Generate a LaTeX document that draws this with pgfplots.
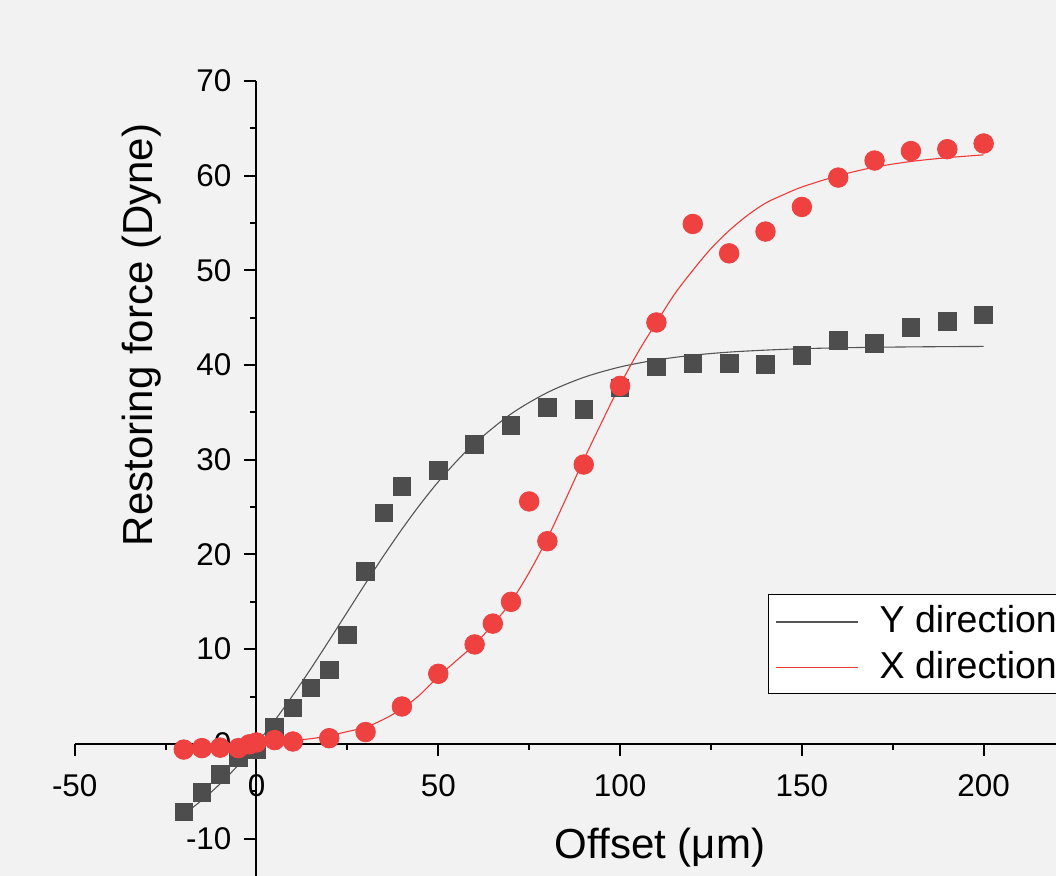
\documentclass[border=0pt]{standalone}
\usepackage{pgfplots}
\pgfplotsset{compat=1.18}
\usepackage{fontspec}
\setmainfont{Liberation Sans}
\definecolor{bg}{HTML}{F2F2F2}
\definecolor{sq}{HTML}{4D4D4D}
\definecolor{rd}{HTML}{F04141}
\definecolor{fitk}{HTML}{555555}
\definecolor{fitr}{HTML}{F03A3A}

\pgfplotstableread{
x y
-20 -7.2
-15 -5.1
-10 -3.2
-5 -1.45
0 -0.6
5 1.75
10 3.8
15 5.9
20 7.8
25 11.5
30 18.2
35 24.4
40 27.2
50 28.9
60 31.6
70 33.6
80 35.5
90 35.3
100 37.6
110 39.8
120 40.2
130 40.2
140 40.1
150 41.0
160 42.6
170 42.3
180 44.0
190 44.6
200 45.3
}\ydata

\pgfplotstableread{
x y
-20 -0.6
-15 -0.45
-10 -0.4
-5 -0.45
-2 -0.05
0 0.15
5 0.4
10 0.25
20 0.6
30 1.25
40 3.95
50 7.4
60 10.5
65 12.7
70 15.0
75 25.6
80 21.4
90 29.5
100 37.8
110 44.5
120 54.9
130 51.8
140 54.1
150 56.7
160 59.8
170 61.6
180 62.6
190 62.8
200 63.4
}\xdata

\pgfplotstableread{
x y
-20 -7.44
-15 -5.94
-10 -4.21
-5 -2.23
0 0.0
5 2.46
10 5.13
15 7.97
20 10.93
25 13.94
30 16.95
35 19.88
40 22.67
45 25.28
50 27.68
55 29.83
60 31.74
70 34.84
80 37.10
90 38.70
100 39.80
110 40.54
120 41.04
130 41.37
140 41.58
150 41.73
160 41.82
170 41.88
180 41.92
190 41.95
200 41.97
}\yfit

\pgfplotstableread{
x y
-20 -0.15
-10 -0.05
0 0.1
5 0.2
10 0.35
15 0.55
20 0.85
25 1.3
30 1.75
35 2.6
40 3.7
45 5.2
50 7.1
55 8.8
60 10.5
65 12.6
70 15.0
75 18.1
80 21.7
85 25.8
90 30.0
95 34.0
100 37.9
105 41.4
110 44.5
115 47.5
120 50.0
125 52.3
130 54.2
135 55.8
140 57.1
145 58.0
150 58.8
160 60.0
170 60.9
180 61.5
190 61.9
200 62.2
}\xfit

\begin{document}
\begin{tikzpicture}
\useasboundingbox (0,0) rectangle (528pt,438pt);
\clip (0,0) rectangle (528pt,438pt);
\fill[bg] (0,0) rectangle (528pt,438pt);
\begin{axis}[
  at={(37.35pt,0pt)}, anchor=south west,
  scale only axis, width=490.65pt, height=397.5pt,
  xmin=-50, xmax=219.9, ymin=-13.95, ymax=70,
  axis lines=center,
  axis line style={-, line width=1pt, black},
  every tick/.style={black, line width=1pt},
  tick align=outside,
  major tick length=6pt, minor tick length=3pt,
  xtick={-50,0,50,100,150,200},
  ytick={-10,0,10,20,30,40,50,60,70},
  hide obscured x ticks=false, hide obscured y ticks=false,
  minor x tick num=1, minor y tick num=1,
  /pgf/number format/assume math mode=true,
  tick label style={font=\fontsize{15.7}{18}\selectfont},
  xticklabel style={yshift=-6pt},
  yticklabel style={xshift=-3pt},
  xlabel={Offset (μm)},
  ylabel={Restoring force (Dyne)},
  label style={font=\fontsize{21}{24}\selectfont},
  xlabel style={at={(axis description cs:0.5965,0.0352)}, anchor=center},
  ylabel style={at={(axis description cs:0.0686,0.6805)}, anchor=center, rotate=90},
  legend cell align=left,
  legend image code/.code={\draw[#1] (0pt,-0.5pt) -- (41pt,-0.5pt);},
  legend style={at={(axis description cs:0.7065,0.3547)}, anchor=north west,
    draw=black, fill=white, line width=0.6pt,
    font=\fontsize{18.75}{20}\selectfont,
    inner xsep=3.5pt, inner ysep=5.5pt, row sep=7.5pt,
    nodes={inner sep=0pt, text height=13.4pt, text depth=2pt},
    /tikz/every odd column/.append style={column sep=10.5pt}},
]
\addplot[only marks, mark=square*, mark size=4.4pt, draw=sq, fill=sq, forget plot] table {\ydata};
\addplot[only marks, mark=*, mark size=4.9pt, draw=rd, fill=rd, forget plot] table {\xdata};
\addplot[draw=fitk, line width=0.55pt, smooth, no marks] table {\yfit};
\addlegendentry{Y direction}
\addplot[draw=fitr, line width=0.55pt, smooth, no marks] table {\xfit};
\addlegendentry{X direction}
\end{axis}
\end{tikzpicture}
\end{document}
